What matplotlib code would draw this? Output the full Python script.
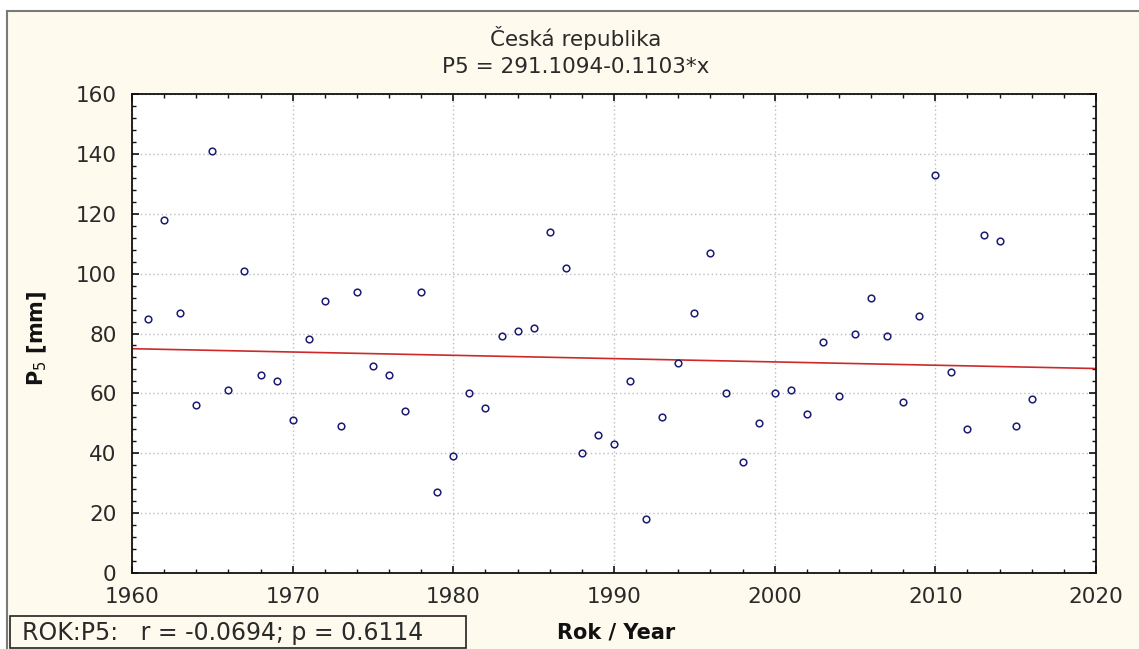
import matplotlib
matplotlib.use('Agg')
import matplotlib.pyplot as plt
from matplotlib.patches import Rectangle
from matplotlib.lines import Line2D
from matplotlib.ticker import MultipleLocator

# ---- data ----
years = list(range(1961, 2017))
p5 = [85, 118, 87, 56, 141, 61, 101, 66, 64, 51,
      78, 91, 49, 94, 69, 66, 54, 94, 27, 39,
      60, 55, 79, 81, 82, 114, 102, 40, 46, 43,
      64, 18, 52, 70, 87, 107, 60, 37, 50, 60,
      61, 53, 77, 59, 80, 92, 79, 57, 86, 133,
      67, 48, 113, 111, 49, 58]
intercept = 291.1094
slope = -0.1103
line_x = [1960, 2020]
x_ticks = [1960, 1970, 1980, 1990, 2000, 2010, 2020]
y_ticks = [0, 20, 40, 60, 80, 100, 120, 140, 160]
title1 = "Česká republika"
title2 = "P5 = 291.1094-0.1103*x"
stats_text = "ROK:P5:   r = -0.0694; p = 0.6114"

W, H = 1139, 649
cream = '#fefaee'
fig = plt.figure(figsize=(W / 100, H / 100), dpi=100)
fig.patch.set_facecolor('white')

# cream panel with grey frame on left/top
fig.add_artist(Rectangle((7 / W, 0), 1 - 7 / W, (H - 11) / H, transform=fig.transFigure,
                         facecolor=cream, edgecolor='none', zorder=-10))
fig.add_artist(Line2D([7 / W, 7 / W], [0, (H - 11) / H], transform=fig.transFigure,
                      color='#7a7a7a', lw=1.5))
fig.add_artist(Line2D([7 / W, 1], [(H - 11) / H, (H - 11) / H], transform=fig.transFigure,
                      color='#7a7a7a', lw=1.5))

ax = fig.add_axes([132 / W, (H - 573) / H, 964 / W, 479 / H])
ax.set_facecolor('white')

ax.plot(years, p5, linestyle='none', marker='o', markersize=4.8,
        markerfacecolor='none', markeredgecolor='#1c1c70', markeredgewidth=1.1, zorder=3)
ax.plot(line_x, [intercept + slope * x for x in line_x], color='#cc2a2a', lw=1.2, zorder=2)

ax.set_xlim(1960, 2020)
ax.set_ylim(0, 160)
ax.set_xticks(x_ticks)
ax.set_yticks(y_ticks)
ax.xaxis.set_minor_locator(MultipleLocator(2))
ax.yaxis.set_minor_locator(MultipleLocator(4))
ax.tick_params(which='both', direction='in', top=True, right=True, color='#111111')
ax.tick_params(which='major', length=5, width=1.2, labelsize=15.5, pad=10, labelcolor='#2a2a2a')
ax.tick_params(which='minor', length=3, width=1)
for lab in ax.get_xticklabels() + ax.get_yticklabels():
    lab.set_family('DejaVu Sans')
ax.tick_params(axis='y', pad=11)
ax.grid(True, which='major', color='#bdbdbd', linestyle=(0, (1, 2)), lw=1)
for s in ax.spines.values():
    s.set_color('#111111')
    s.set_linewidth(1.3)

fig.text(576 / W, 1 - 38 / H, title1, ha='center', va='center', fontsize=15.5,
         family='DejaVu Sans', color='#2a2a2a')
fig.text(576 / W, 1 - 67 / H, title2, ha='center', va='center', fontsize=15.5,
         family='DejaVu Sans', color='#2a2a2a')

fig.text(37 / W, 1 - 338 / H, r'P$_5$ [mm]', rotation=90, ha='center', va='center',
         fontsize=15, fontweight='bold', family='DejaVu Sans', color='#111111')
fig.text(616 / W, 1 - 632 / H, 'Rok / Year', ha='center', va='center',
         fontsize=15, fontweight='bold', family='DejaVu Sans', color='#111111')

fig.add_artist(Rectangle((10 / W, 1 / H), 456 / W, 32 / H, transform=fig.transFigure,
                         facecolor='none', edgecolor='#222222', lw=1.2))
fig.text(22 / W, 1 - 633 / H, stats_text, ha='left', va='center', fontsize=17,
         family='DejaVu Sans', color='#2a2a2a')

fig.savefig('out.png', dpi=100, facecolor=fig.get_facecolor())
